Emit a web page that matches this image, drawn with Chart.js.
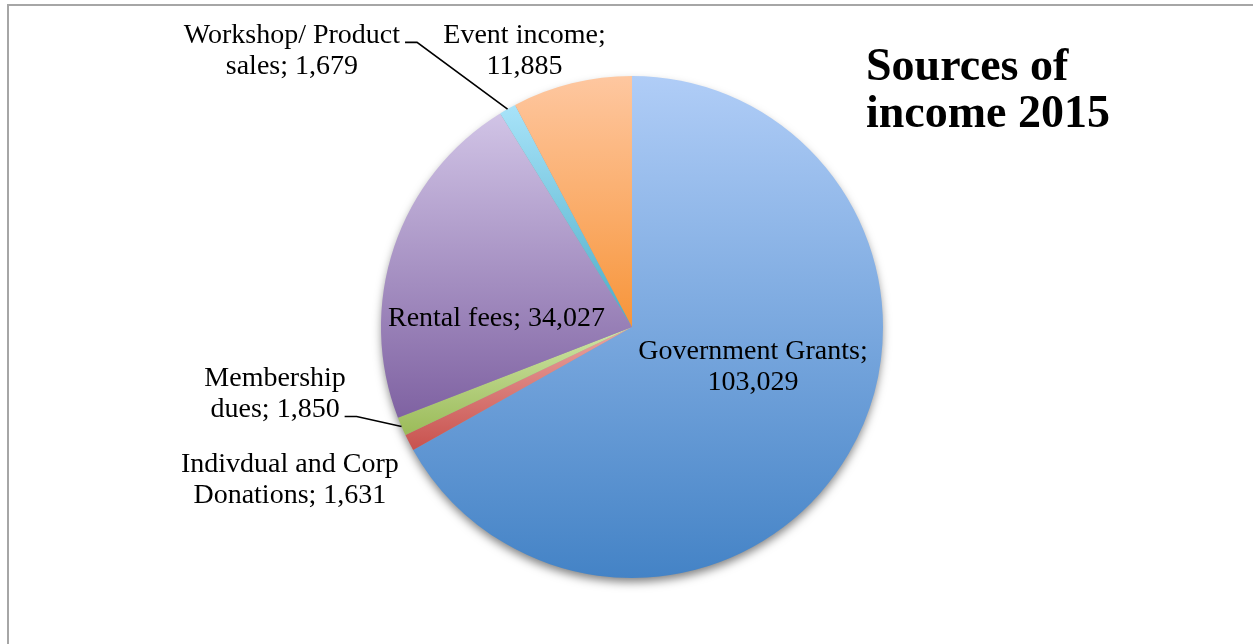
<!DOCTYPE html>
<html>
<head>
<meta charset="utf-8">
<script src="https://cdn.jsdelivr.net/npm/chart.js@4"></script>
<style>
    html, body { margin: 0; padding: 0; background: #fff; overflow: hidden; }
    #wrap { position: relative; width: 1253px; height: 644px; }
    #frame { position: absolute; left: 7px; top: 4px; width: 1400px; height: 800px;
             border-top: 2px solid #a6a6a6; border-left: 2px solid #a6a6a6; }
    canvas { position: absolute; left: 0; top: 0; }
</style>
</head>
<body>
<div id="wrap">
    <div id="frame"></div>
    <canvas id="incomeChart" width="1253" height="644"></canvas>
</div>
<script>
// ==================== DATA ====================
const categories = ["Government Grants", "Indivdual and Corp Donations", "Membership dues",
                    "Rental fees", "Workshop/ Product sales", "Event income"];
const incomeValues = [103029, 1631, 1850, 34027, 1679, 11885];
const chartTitle = ["Sources of", "income 2015"];

// gradient top / bottom per slice
const lightColors = ["#b0cdf7", "#eaa5a2", "#cfe5a6", "#d1c4e6", "#a8e3f9", "#fec7a0"];
const darkColors  = ["#4483c6", "#c8524e", "#9bbb59", "#7f62a2", "#4bacc6", "#f7953a"];

// label layout: words on first line, spot relative to radius, leader line
const labelBreaks = [2, 3, 1, 0, 2, 2];
const labelSpots = [[0.482, 0.160], [-1.363, 0.610], [-1.422, 0.267],
                    [-0.540, -0.032], [-1.355, -1.100], [-0.428, -1.100]];
const leaderFrom = [null, null, 1, null, 0, null];

const FONT = '"Liberation Serif", "Times New Roman", serif';

// ==================== HELPERS ====================
function labelLines(i) {
    const words = `${categories[i]}; ${incomeValues[i].toLocaleString('en-US')}`.split(' ');
    if (!labelBreaks[i]) return [words.join(' ')];
    return [words.slice(0, labelBreaks[i]).join(' '), words.slice(labelBreaks[i]).join(' ')];
}

function sliceGradient(c) {
    const i = c.dataIndex;
    const area = c.chart.chartArea;
    if (!area) return darkColors[i];
    const cx = (area.left + area.right) / 2;
    const cy = (area.top + area.bottom) / 2;
    const r = Math.min(area.right - area.left, area.bottom - area.top) / 2;
    const total = incomeValues.reduce((a, b) => a + b, 0);
    const before = incomeValues.slice(0, i).reduce((a, b) => a + b, 0);
    const a0 = before / total * Math.PI * 2 - Math.PI / 2;
    const a1 = (before + incomeValues[i]) / total * Math.PI * 2 - Math.PI / 2;
    const ys = [cy, cy + r * Math.sin(a0), cy + r * Math.sin(a1)];
    [-Math.PI / 2, Math.PI / 2, Math.PI * 1.5].forEach(a => {
        if (a > a0 && a < a1) ys.push(cy + r * Math.sin(a));
    });
    const g = c.chart.ctx.createLinearGradient(0, Math.min(...ys), 0, Math.max(...ys));
    g.addColorStop(0, lightColors[i]);
    g.addColorStop(1, darkColors[i]);
    return g;
}

// ==================== PLUGINS ====================
const pieShadow = {
    id: 'pieShadow',
    beforeDatasetsDraw(chart) {
        const arc = chart.getDatasetMeta(0).data[0];
        if (!arc) return;
        const ctx = chart.ctx;
        ctx.save();
        ctx.shadowColor = 'rgba(0,0,0,0.5)';
        ctx.shadowBlur = 10;
        ctx.shadowOffsetY = 5;
        ctx.fillStyle = '#9a9a9a';
        ctx.beginPath();
        ctx.arc(arc.x, arc.y, arc.outerRadius - 1, 0, Math.PI * 2);
        ctx.fill();
        ctx.restore();
    }
};

const sliceLabels = {
    id: 'sliceLabels',
    afterDatasetsDraw(chart) {
        const ctx = chart.ctx;
        const meta = chart.getDatasetMeta(0);
        const lineH = 31;
        ctx.save();
        ctx.font = `28px ${FONT}`;
        ctx.fillStyle = '#000';
        ctx.textAlign = 'center';
        ctx.textBaseline = 'middle';
        meta.data.forEach((arc, i) => {
            const r = arc.outerRadius;
            const lx = arc.x + labelSpots[i][0] * r;
            const ly = arc.y + labelSpots[i][1] * r;
            const lines = labelLines(i);
            const top = ly - (lines.length - 1) * lineH / 2;
            lines.forEach((t, k) => ctx.fillText(t, lx, top + k * lineH));

            if (leaderFrom[i] !== null) {
                const k = leaderFrom[i];
                const w = ctx.measureText(lines[k]).width;
                const sx = lx + w / 2 + 5;
                const sy = top + k * lineH + 7;
                const mid = (arc.startAngle + arc.endAngle) / 2;
                ctx.strokeStyle = '#000';
                ctx.lineWidth = 1.6;
                ctx.beginPath();
                ctx.moveTo(sx, sy);
                ctx.lineTo(sx + 12, sy);
                ctx.lineTo(arc.x + Math.cos(mid) * r, arc.y + Math.sin(mid) * r);
                ctx.stroke();
            }
        });

        ctx.font = `bold 46px ${FONT}`;
        ctx.textAlign = 'left';
        ctx.textBaseline = 'alphabetic';
        ctx.fillText(chartTitle[0], 866, 80);
        ctx.fillText(chartTitle[1], 866, 127);
        ctx.restore();
    }
};

// ==================== CHART ====================
new Chart(document.getElementById('incomeChart'), {
    type: 'pie',
    data: {
        labels: categories,
        datasets: [{
            data: incomeValues,
            backgroundColor: sliceGradient,
            borderWidth: 0,
            offset: 0,
            hoverOffset: 0
        }]
    },
    options: {
        responsive: false,
        animation: false,
        events: [],
        layout: { padding: { top: 76, bottom: 66, left: 381, right: 370 } },
        plugins: {
            legend: { display: false },
            tooltip: { enabled: false },
            title: { display: false }
        }
    },
    plugins: [pieShadow, sliceLabels]
});
</script>
</body>
</html>
